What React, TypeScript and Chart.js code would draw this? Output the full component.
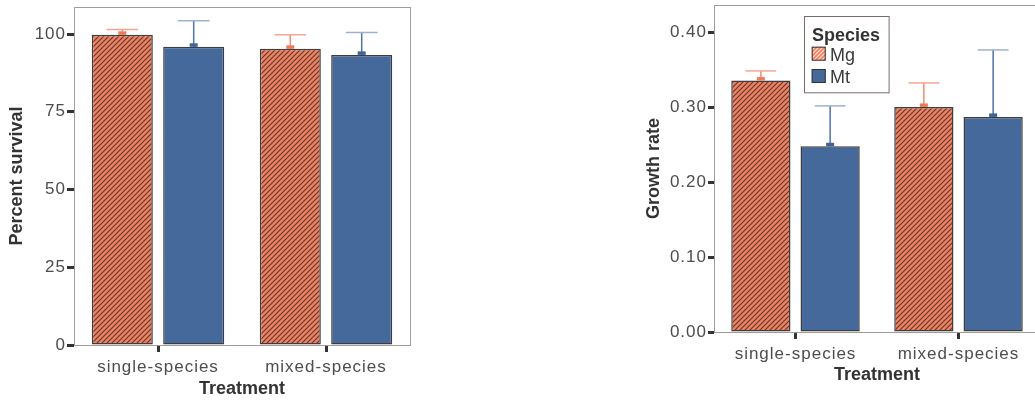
import React, { useEffect, useRef } from 'react';
import { Chart, registerables } from 'chart.js';

Chart.register(...registerables);

// ---------------- data ----------------
const categories = ['single-species', 'mixed-species'];
const speciesNames = ['Mg', 'Mt'];

const survivalMg = [99.75, 95.25];
const survivalMt = [95.9, 93.3];
const survivalErrMg = [1.72, 4.5];
const survivalErrMt = [8.36, 7.2];
const survivalTicks = [0, 25, 50, 75, 100];

const growthMg = [0.3356, 0.3004];
const growthMt = [0.2479, 0.2871];
const growthErrMg = [0.0129, 0.0321];
const growthErrMt = [0.0539, 0.0894];
const growthTicks = [0, 0.1, 0.2, 0.3, 0.4];

// ---------------- styles ----------------
const FONT = "'Liberation Sans', Arial, Helvetica, sans-serif";
const ORANGE = '#F2805F';
const BLUE = '#46699C';
const BAR_BORDER = '#3d3d3d';
const PANEL_BORDER = '#a39a9a';
const TICK_COLOR = '#333333';
const LABEL_COLOR = '#4d4d4d';
const TITLE_COLOR = '#333333';

const errStyles = [
  { stem: '#F08A70', cap: '#F5A693', base: '#EE7A5A' },
  { stem: '#4F72A8', cap: '#9DB1D1', base: '#3F6299' },
];

function makeHatch(bg: string, line: string, size: number, lw: number) {
  const c = document.createElement('canvas');
  c.width = size;
  c.height = size;
  const g = c.getContext('2d')!;
  g.fillStyle = bg;
  g.fillRect(0, 0, size, size);
  g.strokeStyle = line;
  g.lineWidth = lw;
  g.beginPath();
  for (const o of [-size, 0, size]) {
    g.moveTo(o - 1, size + 1);
    g.lineTo(o + size + 1, -1);
  }
  g.stroke();
  const ctx = document.createElement('canvas').getContext('2d')!;
  return ctx.createPattern(c, 'repeat') as CanvasPattern;
}

const panelPlugin = {
  id: 'panelBorder',
  beforeDraw(chart: any) {
    (chart.ctx as any).letterSpacing = '0px';
  },
  beforeDatasetsDraw(chart: any) {
    const { ctx, chartArea } = chart;
    ctx.save();
    ctx.strokeStyle = PANEL_BORDER;
    ctx.lineWidth = 1;
    ctx.strokeRect(
      Math.round(chartArea.left) + 0.5,
      Math.round(chartArea.top) + 0.5,
      chartArea.right - chartArea.left,
      chartArea.bottom - chartArea.top
    );
    ctx.restore();
  },
  afterDatasetsDraw(chart: any) {
    // tick labels are drawn after datasets (ticks.z = 1): give them a little tracking
    (chart.ctx as any).letterSpacing = '1px';
  },
};

const errorBarPlugin = {
  id: 'errorBars',
  afterDatasetsDraw(chart: any, _args: any, opts: any) {
    const ctx = chart.ctx;
    const yScale = chart.scales.y;
    chart.data.datasets.forEach((ds: any, di: number) => {
      const meta = chart.getDatasetMeta(di);
      const errs: number[] = opts.errors[di];
      const st = errStyles[di];
      meta.data.forEach((bar: any, i: number) => {
        const { x, y, width } = bar.getProps(['x', 'y', 'width'], true);
        const yEnd = yScale.getPixelForValue(ds.data[i] + errs[i]);
        const half = width * 0.26;
        ctx.save();
        ctx.lineWidth = 1.5;
        ctx.strokeStyle = st.stem;
        ctx.beginPath();
        ctx.moveTo(x, y);
        ctx.lineTo(x, yEnd);
        ctx.stroke();
        ctx.strokeStyle = st.cap;
        ctx.beginPath();
        ctx.moveTo(x - half, yEnd);
        ctx.lineTo(x + half, yEnd);
        ctx.stroke();
        ctx.fillStyle = st.base;
        ctx.fillRect(x - 4, y - 3.5, 8, 3.5);
        ctx.restore();
      });
    });
  },
};

const legendPlugin = {
  id: 'speciesLegend',
  afterDraw(chart: any, _args: any, opts: any) {
    if (!opts || !opts.show) return;
    const { ctx, chartArea } = chart;
    const bx = chartArea.left + 89.7;
    const by = chartArea.top + 10.7;
    ctx.save();
    ctx.letterSpacing = '0px';
    ctx.fillStyle = '#ffffff';
    ctx.fillRect(bx, by, 84.6, 76.3);
    ctx.strokeStyle = '#7a6b6b';
    ctx.lineWidth = 1;
    ctx.strokeRect(Math.round(bx) + 0.5, Math.round(by) + 0.5, 84.6, 76.3);
    ctx.textAlign = 'left';
    ctx.textBaseline = 'alphabetic';
    ctx.fillStyle = TITLE_COLOR;
    ctx.font = `bold 18px ${FONT}`;
    ctx.fillText(opts.title, bx + 8.3, by + 25.3);
    const swatches = [opts.swatchMg, BLUE];
    const rows = [31, 53.3];
    const bases = [45.5, 67.2];
    speciesNames.forEach((name, i) => {
      ctx.fillStyle = swatches[i];
      ctx.fillRect(bx + 8, by + rows[i], 14, 14);
      ctx.strokeStyle = '#333333';
      ctx.strokeRect(bx + 8.5, by + rows[i] + 0.5, 13, 13);
      ctx.fillStyle = '#3a3a3a';
      ctx.font = `18px ${FONT}`;
      ctx.fillText(name, bx + 26.3, by + bases[i]);
    });
    ctx.restore();
  },
};

type PanelSpec = {
  mg: number[];
  mt: number[];
  mgErr: number[];
  mtErr: number[];
  yMax: number;
  yTicks: number[];
  yTitle: string;
  digits: number;
  yAxisWidth: number;
  xAxisHeight: number;
  padTop: number;
  padRight: number;
  yTitlePad: number;
  xTitlePad: number;
  yTickLength: number;
  yTickPad: number;
  legend: boolean;
};

function buildConfig(p: PanelSpec): any {
  const hatch = makeHatch(ORANGE, '#5a3d36', 5, 1.2);
  const swatchMg = makeHatch(ORANGE, 'rgba(255,236,228,0.9)', 4, 1.2);
  const gridBase = {
    display: true,
    drawOnChartArea: false,
    drawTicks: true,
    tickWidth: 3,
    tickColor: TICK_COLOR,
  };
  return {
    type: 'bar',
    data: {
      labels: categories,
      datasets: [
        {
          label: speciesNames[0],
          data: p.mg,
          backgroundColor: hatch,
          borderColor: BAR_BORDER,
          borderWidth: 1.5,
          borderSkipped: false,
          categoryPercentage: 0.85,
          barPercentage: 0.855,
        },
        {
          label: speciesNames[1],
          data: p.mt,
          backgroundColor: BLUE,
          borderColor: BAR_BORDER,
          borderWidth: 1.5,
          borderSkipped: false,
          categoryPercentage: 0.85,
          barPercentage: 0.855,
        },
      ],
    },
    options: {
      responsive: false,
      animation: false,
      devicePixelRatio: 1,
      layout: { padding: { left: 0, right: p.padRight, top: p.padTop, bottom: 0 } },
      plugins: {
        legend: { display: false },
        tooltip: { enabled: false },
        errorBars: { errors: [p.mgErr, p.mtErr] },
        speciesLegend: { show: p.legend, title: 'Species', swatchMg },
      },
      scales: {
        x: {
          type: 'category',
          offset: true,
          grid: { ...gridBase, offset: false, tickLength: 7 },
          border: { display: false },
          ticks: {
            font: { family: FONT, size: 17 },
            color: LABEL_COLOR,
            padding: 5,
            maxRotation: 0,
            autoSkip: false,
            z: 1,
          },
          title: {
            display: true,
            text: 'Treatment',
            color: TITLE_COLOR,
            font: { family: FONT, size: 18, weight: 'bold' },
            padding: { top: 0, bottom: p.xTitlePad },
          },
          afterFit: (s: any) => {
            s.height = p.xAxisHeight;
            s.paddingLeft = 0;
            s.paddingRight = 0;
          },
        },
        y: {
          type: 'linear',
          min: 0,
          max: p.yMax,
          grid: { ...gridBase, tickLength: p.yTickLength },
          border: { display: false },
          afterBuildTicks: (s: any) => {
            s.ticks = p.yTicks.map((v) => ({ value: v }));
          },
          ticks: {
            font: { family: FONT, size: 17 },
            color: LABEL_COLOR,
            padding: p.yTickPad,
            z: 1,
            callback: (v: any) => Number(v).toFixed(p.digits),
          },
          title: {
            display: true,
            text: p.yTitle,
            color: TITLE_COLOR,
            font: { family: FONT, size: 18, weight: 'bold' },
            padding: { top: p.yTitlePad, bottom: 0 },
          },
          afterFit: (s: any) => {
            s.width = p.yAxisWidth;
            s.paddingTop = 0;
            s.paddingBottom = 0;
          },
        },
      },
    },
    plugins: [panelPlugin, errorBarPlugin, legendPlugin],
  };
}

function BarPanel({ spec, left, width, height }: { spec: PanelSpec; left: number; width: number; height: number }) {
  const ref = useRef<HTMLCanvasElement>(null);
  useEffect(() => {
    const chart = new Chart(ref.current as HTMLCanvasElement, buildConfig(spec));
    return () => chart.destroy();
  }, []);
  return (
    <canvas
      ref={ref}
      width={width}
      height={height}
      style={{ position: 'absolute', left, top: 0, width, height, display: 'block' }}
    />
  );
}

const survivalSpec: PanelSpec = {
  mg: survivalMg,
  mt: survivalMt,
  mgErr: survivalErrMg,
  mtErr: survivalErrMt,
  yMax: 108.7,
  yTicks: survivalTicks,
  yTitle: 'Percent survival',
  digits: 0,
  yAxisWidth: 74,
  xAxisHeight: 55,
  padTop: 7,
  padRight: 10,
  yTitlePad: 6,
  xTitlePad: 0,
  yTickLength: 7,
  yTickPad: 1,
  legend: false,
};

const growthSpec: PanelSpec = {
  mg: growthMg,
  mt: growthMt,
  mgErr: growthErrMg,
  mtErr: growthErrMt,
  yMax: 0.4365,
  yTicks: growthTicks,
  yTitle: 'Growth rate',
  digits: 2,
  yAxisWidth: 84,
  xAxisHeight: 68,
  padTop: 5,
  padRight: 10,
  yTitlePad: 13.4,
  xTitlePad: 13.9,
  yTickLength: 6,
  yTickPad: 1,
  legend: true,
};

export default function App() {
  return (
    <div
      style={{
        position: 'fixed',
        left: 0,
        top: 0,
        width: 1035,
        height: 400,
        overflow: 'hidden',
        background: '#ffffff',
      }}
    >
      <BarPanel spec={survivalSpec} left={0} width={420} height={400} />
      <BarPanel spec={growthSpec} left={630} width={420} height={400} />
    </div>
  );
}
